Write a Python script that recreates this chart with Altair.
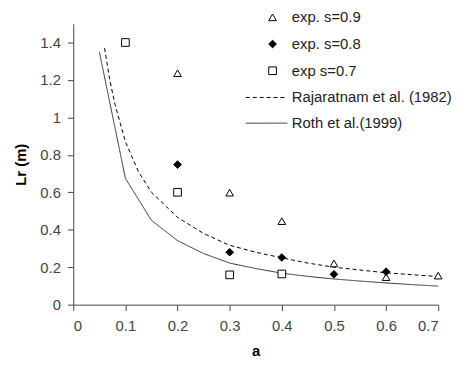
import altair as alt
import pandas as pd

# experimental points
a_09 = [0.2, 0.3, 0.4, 0.5, 0.6, 0.7]
lr_09 = [1.236, 0.598, 0.446, 0.22, 0.147, 0.155]
a_08 = [0.2, 0.3, 0.4, 0.5, 0.6]
lr_08 = [0.748, 0.28, 0.252, 0.162, 0.176]
a_07 = [0.1, 0.2, 0.3, 0.4]
lr_07 = [1.40, 0.60, 0.159, 0.164]

# model curves
a_raj = [0.06, 0.07, 0.08, 0.1, 0.125, 0.15, 0.2, 0.25, 0.3, 0.35, 0.4, 0.45, 0.5, 0.55, 0.6, 0.65, 0.7]
lr_raj = [1.37, 1.20, 1.07, 0.87, 0.71, 0.60, 0.466, 0.38, 0.317, 0.28, 0.25, 0.222, 0.20, 0.185, 0.17, 0.16, 0.15]
a_roth = [0.05, 0.1, 0.15, 0.2, 0.25, 0.3, 0.35, 0.4, 0.45, 0.5, 0.55, 0.6, 0.65, 0.7]
lr_roth = [1.35, 0.675, 0.45, 0.342, 0.273, 0.222, 0.193, 0.168, 0.151, 0.137, 0.126, 0.116, 0.107, 0.099]

series_names = ["exp. s=0.9", "exp. s=0.8", "exp s=0.7"]
model_names = ["Rajaratnam et al. (1982)", "Roth et al.(1999)"]

x_ticks = [0, 0.1, 0.2, 0.3, 0.4, 0.5, 0.6, 0.7]
y_ticks = [0, 0.2, 0.4, 0.6, 0.8, 1.0, 1.2, 1.4]

pts = pd.concat([
    pd.DataFrame({"a": a_09, "Lr": lr_09, "series": series_names[0]}),
    pd.DataFrame({"a": a_08, "Lr": lr_08, "series": series_names[1]}),
    pd.DataFrame({"a": a_07, "Lr": lr_07, "series": series_names[2]}),
], ignore_index=True)

lines = pd.concat([
    pd.DataFrame({"a": a_raj, "Lr": lr_raj, "model": model_names[0], "o": range(len(a_raj))}),
    pd.DataFrame({"a": a_roth, "Lr": lr_roth, "model": model_names[1], "o": range(len(a_roth))}),
], ignore_index=True)

FONT = "Liberation Sans"

x_enc = alt.X("a:Q", title="a",
              scale=alt.Scale(domain=[0, 0.7], nice=False, zero=False),
              axis=alt.Axis(values=x_ticks, format="~g", grid=False,
                            titleY=51, titleBaseline="alphabetic"))
y_enc = alt.Y("Lr:Q", title="Lr (m)",
              scale=alt.Scale(domain=[0, 1.5], nice=False),
              axis=alt.Axis(values=y_ticks, format="~g", grid=False,
                            titleX=-53, titleY=142, titleBaseline="middle",
                            titleAlign="center", titleAngle=270))

pt_legend = alt.Legend(title=None, orient="none", legendX=194, legendY=-14,
                       labelFont=FONT, labelFontSize=15, labelColor="#222",
                       labelOffset=12, rowPadding=11, symbolStrokeColor="black",
                       symbolStrokeWidth=1, symbolSize=60, padding=0)

points = alt.Chart(pts).mark_point(size=60, strokeWidth=1, opacity=1).encode(
    x=x_enc, y=y_enc,
    shape=alt.Shape("series:N", sort=series_names,
                    scale=alt.Scale(domain=series_names, range=["triangle-up", "diamond", "square"]),
                    legend=pt_legend),
    fill=alt.Fill("series:N", sort=series_names,
                  scale=alt.Scale(domain=series_names, range=["white", "black", "white"]),
                  legend=pt_legend),
    stroke=alt.Stroke("series:N", sort=series_names,
                      scale=alt.Scale(domain=series_names, range=["black", "black", "black"]),
                      legend=pt_legend),
)

ln_legend = alt.Legend(title=None, orient="none", legendX=188, legendY=67,
                       labelFont=FONT, labelFontSize=15, labelColor="#222", labelLimit=300,
                       labelOffset=18, rowPadding=10, symbolType="M-4.2,0L4.2,0",
                       symbolSize=100, symbolStrokeWidth=1, padding=0)

curves = alt.Chart(lines).mark_line(strokeWidth=1).encode(
    x=x_enc, y=y_enc, order="o:Q",
    strokeDash=alt.StrokeDash("model:N", sort=model_names,
                              scale=alt.Scale(domain=model_names, range=[[4, 3], [1, 0]]),
                              legend=ln_legend),
    color=alt.Color("model:N", sort=model_names,
                    scale=alt.Scale(domain=model_names, range=["black", "#333333"]),
                    legend=ln_legend),
)

chart = alt.layer(curves, points).properties(
    width=369, height=284,
    autosize=alt.AutoSizeParams(type="none"),
    padding={"left": 66, "top": 14, "right": 20, "bottom": 53},
).configure_view(stroke=None).configure_axis(
    domainColor="#444", tickColor="#444", tickSize=6,
    labelFont=FONT, labelFontSize=15, labelColor="#444",
    titleFont=FONT, titleFontSize=15, titleFontWeight="bold", titleColor="black",
).configure_axisX(labelPadding=8).configure_axisY(labelPadding=7, titlePadding=12)

chart.save("out.html", embed_options={"renderer": "svg", "actions": False})
